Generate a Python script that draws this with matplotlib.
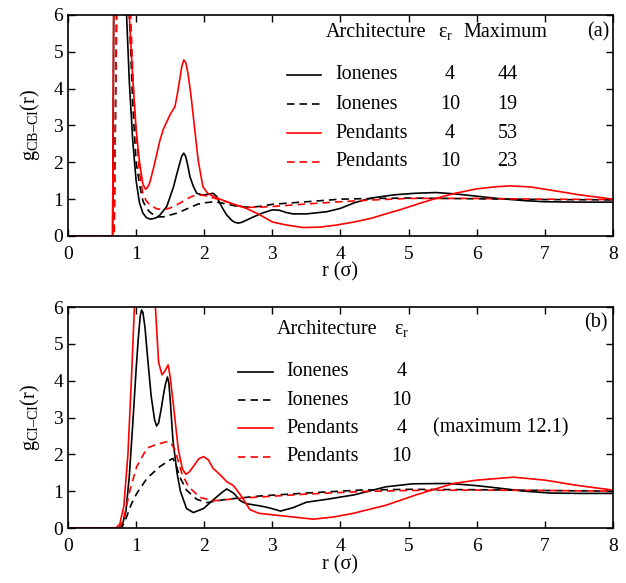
import numpy as np
import matplotlib
matplotlib.use("Agg")
import matplotlib.pyplot as plt

plt.rcParams['font.family'] = ['Liberation Serif', 'DejaVu Serif']
plt.rcParams['mathtext.fontset'] = 'custom'
plt.rcParams['mathtext.rm'] = 'Liberation Serif'
plt.rcParams['mathtext.it'] = 'Liberation Serif:italic'

# ---- panel (a): g_CB-CI(r) ----
a_ion4_r = [0, 0.655, 0.78, 0.86, 0.9, 0.95, 1.0, 1.05, 1.1, 1.15, 1.2, 1.25, 1.3, 1.35, 1.45,
            1.55, 1.6, 1.64, 1.67, 1.7, 1.73, 1.76, 1.79, 1.84, 1.89, 1.98, 2.05, 2.13, 2.18,
            2.23, 2.28, 2.33, 2.4, 2.45, 2.5, 2.55, 2.7, 2.85, 3.0, 3.1, 3.2, 3.3, 3.5,
            3.8, 4.0, 4.2, 4.45, 4.8, 5.1, 5.4, 5.7, 6.0, 6.3, 6.7, 7.0, 7.5, 8.0]
a_ion4_g = [0, 0, 44, 6.0, 4.2, 2.6, 1.5, 0.9, 0.62, 0.5, 0.46, 0.47, 0.5, 0.57, 0.8,
            1.34, 1.7, 1.97, 2.17, 2.25, 2.15, 1.9, 1.61, 1.35, 1.16, 1.11, 1.13, 1.16, 1.08,
            0.89, 0.72, 0.57, 0.43, 0.37, 0.35, 0.37, 0.5, 0.62, 0.71, 0.7, 0.64, 0.6, 0.6,
            0.66, 0.75, 0.9, 1.03, 1.12, 1.16, 1.18, 1.14, 1.08, 1.02, 0.96, 0.93, 0.92, 0.92]

a_ion10_r = [0, 0.675, 0.8, 0.9, 0.95, 1.0, 1.05, 1.1, 1.15, 1.2, 1.3, 1.4, 1.5, 1.6, 1.7, 1.8,
             1.9, 2.0, 2.15, 2.3, 2.5, 2.65, 2.8, 3.0, 3.5, 4.0, 4.5, 5.0, 6.0, 7.0, 8.0]
a_ion10_g = [0, 0, 19, 6.0, 3.6, 2.0, 1.4, 0.95, 0.76, 0.65, 0.52, 0.52, 0.57, 0.62, 0.7, 0.78,
             0.86, 0.9, 0.93, 0.88, 0.8, 0.78, 0.8, 0.86, 0.93, 1.0, 1.02, 1.03, 1.01, 0.99, 0.98]

a_pen4_r = [0, 0.655, 0.78, 0.9, 0.95, 1.0, 1.05, 1.1, 1.14, 1.17, 1.2, 1.25, 1.3, 1.35, 1.4,
            1.45, 1.5, 1.57, 1.6, 1.64, 1.67, 1.7, 1.73, 1.76, 1.8, 1.84, 1.91, 1.98, 2.05,
            2.15, 2.33, 2.5, 2.62, 2.82, 3.0, 3.2, 3.45, 3.7, 3.95, 4.2, 4.45, 4.7, 4.87,
            5.17, 5.4, 5.66, 6.0, 6.3, 6.5, 6.8, 7.1, 7.5, 8.0]
a_pen4_g = [0, 0, 53, 6.0, 4.3, 2.9, 2.0, 1.4, 1.27, 1.32, 1.45, 1.8, 2.2, 2.6, 2.9,
            3.1, 3.3, 3.51, 3.8, 4.24, 4.6, 4.78, 4.7, 4.42, 3.9, 3.24, 2.07, 1.34, 1.16,
            1.06, 0.93, 0.82, 0.75, 0.57, 0.38, 0.3, 0.23, 0.24, 0.3, 0.38, 0.48, 0.62, 0.71,
            0.89, 1.02, 1.15, 1.28, 1.34, 1.36, 1.33, 1.24, 1.12, 1.0]

a_pen10_r = [0, 0.68, 0.8, 0.92, 0.96, 1.0, 1.05, 1.1, 1.15, 1.2, 1.3, 1.4, 1.5, 1.6, 1.7, 1.8,
             1.9, 2.0, 2.1, 2.3, 2.5, 2.65, 2.8, 3.0, 3.5, 4.0, 4.5, 5.0, 6.0, 7.0, 8.0]
a_pen10_g = [0, 0, 23, 6.0, 4.0, 2.8, 1.7, 1.15, 0.95, 0.85, 0.74, 0.71, 0.76, 0.85, 0.95, 1.06,
             1.12, 1.1, 1.05, 0.95, 0.82, 0.78, 0.78, 0.8, 0.87, 0.93, 0.98, 1.02, 1.02, 1.0, 0.99]

# ---- panel (b): g_CI-CI(r) ----
b_ion4_r = [0, 0.75, 0.8, 0.85, 0.9, 0.95, 1.0, 1.03, 1.06, 1.08, 1.1, 1.13, 1.17, 1.22, 1.27,
            1.3, 1.33, 1.37, 1.4, 1.43, 1.46, 1.48, 1.5, 1.54, 1.6, 1.65, 1.74, 1.84, 1.99,
            2.13, 2.25, 2.33, 2.43, 2.53, 2.62, 2.82, 2.95, 3.12, 3.3, 3.5, 3.8, 4.2, 4.67,
            5.06, 5.6, 6.0, 6.34, 6.7, 7.08, 7.5, 8.0]
b_ion4_g = [0, 0, 0.1, 0.45, 1.4, 2.8, 4.3, 5.1, 5.75, 5.92, 5.85, 5.45, 4.6, 3.6, 2.95,
            2.77, 2.85, 3.25, 3.6, 3.9, 4.1, 3.95, 3.5, 2.4, 1.5, 1.0, 0.53, 0.42, 0.53,
            0.76, 0.95, 1.06, 0.95, 0.74, 0.66, 0.6, 0.55, 0.46, 0.55, 0.7, 0.78, 0.9, 1.12,
            1.2, 1.21, 1.15, 1.08, 1.0, 0.95, 0.94, 0.94]

b_ion10_r = [0, 0.75, 0.8, 0.86, 0.93, 1.01, 1.16, 1.35, 1.5, 1.54, 1.58, 1.64, 1.74, 1.89,
             2.04, 2.33, 2.82, 3.5, 4.29, 5.0, 6.0, 7.0, 8.0]
b_ion10_g = [0, 0, 0.05, 0.3, 0.65, 0.94, 1.35, 1.67, 1.85, 1.89, 1.75, 1.39, 1.03, 0.78,
             0.69, 0.78, 0.87, 0.95, 1.03, 1.05, 1.04, 1.02, 1.0]

b_pen4_r = [0, 0.7, 0.76, 0.82, 0.88, 0.93, 0.98, 1.05, 1.12, 1.2, 1.28, 1.33, 1.38, 1.42,
            1.47, 1.5, 1.55, 1.62, 1.68, 1.73, 1.78, 1.84, 1.92, 1.99, 2.06, 2.13, 2.23, 2.33,
            2.43, 2.55, 2.67, 2.8, 3.0, 3.3, 3.6, 3.9, 4.19, 4.67, 5.11, 5.66, 6.0, 6.54,
            7.0, 7.5, 8.0]
b_pen4_g = [0, 0, 0.1, 0.6, 2.0, 4.0, 6.2, 10.0, 12.1, 10.0, 6.1, 4.5, 4.16, 4.25,
            4.43, 4.1, 3.3, 2.12, 1.6, 1.46, 1.52, 1.67, 1.88, 1.94, 1.85, 1.62, 1.45, 1.26,
            1.15, 0.85, 0.5, 0.4, 0.36, 0.3, 0.24, 0.3, 0.4, 0.62, 0.9, 1.21, 1.3, 1.38,
            1.3, 1.15, 1.03]

b_pen10_r = [0, 0.75, 0.81, 0.86, 0.91, 1.01, 1.16, 1.3, 1.4, 1.47, 1.52, 1.57, 1.67, 1.77,
             1.94, 2.13, 2.62, 3.5, 4.29, 5.0, 6.0, 7.0, 8.0]
b_pen10_g = [0, 0, 0.2, 0.6, 1.03, 1.67, 2.17, 2.27, 2.32, 2.35, 2.28, 2.12, 1.49, 1.12,
             0.83, 0.74, 0.82, 0.92, 0.99, 1.02, 1.03, 1.02, 1.0]

names = ['Ionenes', 'Ionenes', 'Pendants', 'Pendants']
eps = ['4', '10', '4', '10']
maxima_a = ['44', '19', '53', '23']
colors = ['black', 'black', 'red', 'red']
dashed = [False, True, False, True]

FS = 14.5
DASH = (0, (4.5, 3))

fig = plt.figure(figsize=(6.26, 5.83), dpi=100)
ax1 = fig.add_axes([0.1086, 0.5952, 0.8706, 0.3791])
ax2 = fig.add_axes([0.1086, 0.0943, 0.8706, 0.3791])

series_a = [(a_ion4_r, a_ion4_g), (a_ion10_r, a_ion10_g), (a_pen4_r, a_pen4_g), (a_pen10_r, a_pen10_g)]
series_b = [(b_ion4_r, b_ion4_g), (b_ion10_r, b_ion10_g), (b_pen4_r, b_pen4_g), (b_pen10_r, b_pen10_g)]

for ax, series in [(ax1, series_a), (ax2, series_b)]:
    for (r, g), c, d in zip(series, colors, dashed):
        ax.plot(r, g, color=c, lw=1.2, ls=DASH if d else '-', solid_joinstyle='round')
    ax.set_xlim(0, 8)
    ax.set_ylim(0, 6)
    ax.set_xticks(range(0, 9))
    ax.set_yticks(range(0, 7))
    ax.tick_params(direction='in', top=True, right=True, length=5, width=1,
                   labelsize=FS - 0.5)
    ax.tick_params(axis='x', pad=7)
    for s in ax.spines.values():
        s.set_linewidth(1.2)
    ax.set_xlabel('r (σ)', fontsize=FS, labelpad=0)

ax1.set_ylabel(r'$\mathrm{g_{CB–CI}(r)}$', fontsize=FS, labelpad=8)
ax2.set_ylabel(r'$\mathrm{g_{CI–CI}(r)}$', fontsize=FS, labelpad=8)

# legend table, panel (a)
ax1.text(0.473, 0.923, 'Architecture', transform=ax1.transAxes, fontsize=FS, va='center')
ax1.text(0.692, 0.923, r'$\mathrm{\varepsilon_r}$', transform=ax1.transAxes, fontsize=FS,
         va='center', ha='center')
ax1.text(0.802, 0.923, 'Maximum', transform=ax1.transAxes, fontsize=FS, va='center', ha='center')
ax1.text(0.994, 0.923, '(a)', transform=ax1.transAxes, fontsize=FS, va='center', ha='right')
rows_a = [0.729, 0.597, 0.466, 0.335]
for y, n, e, m, c, d in zip(rows_a, names, eps, maxima_a, colors, dashed):
    ax1.plot([0.402, 0.464], [y, y], transform=ax1.transAxes, color=c, lw=1.2,
             ls=DASH if d else '-')
    ax1.text(0.490, y, n, transform=ax1.transAxes, fontsize=FS, va='center')
    ax1.text(0.701, y, e, transform=ax1.transAxes, fontsize=FS, va='center', ha='center')
    ax1.text(0.806, y, m, transform=ax1.transAxes, fontsize=FS, va='center', ha='center')

# legend table, panel (b)
ax2.text(0.383, 0.896, 'Architecture', transform=ax2.transAxes, fontsize=FS, va='center')
ax2.text(0.612, 0.896, r'$\mathrm{\varepsilon_r}$', transform=ax2.transAxes, fontsize=FS,
         va='center', ha='center')
ax2.text(0.991, 0.928, '(b)', transform=ax2.transAxes, fontsize=FS, va='center', ha='right')
rows_b = [0.707, 0.579, 0.451, 0.323]
for y, n, e, c, d in zip(rows_b, names, eps, colors, dashed):
    ax2.plot([0.312, 0.376], [y, y], transform=ax2.transAxes, color=c, lw=1.2,
             ls=DASH if d else '-')
    ax2.text(0.401, y, n, transform=ax2.transAxes, fontsize=FS, va='center')
    ax2.text(0.612, y, e, transform=ax2.transAxes, fontsize=FS, va='center', ha='center')
ax2.text(0.670, rows_b[2], '(maximum 12.1)', transform=ax2.transAxes, fontsize=FS, va='center')

fig.savefig('out.png', dpi=100)
